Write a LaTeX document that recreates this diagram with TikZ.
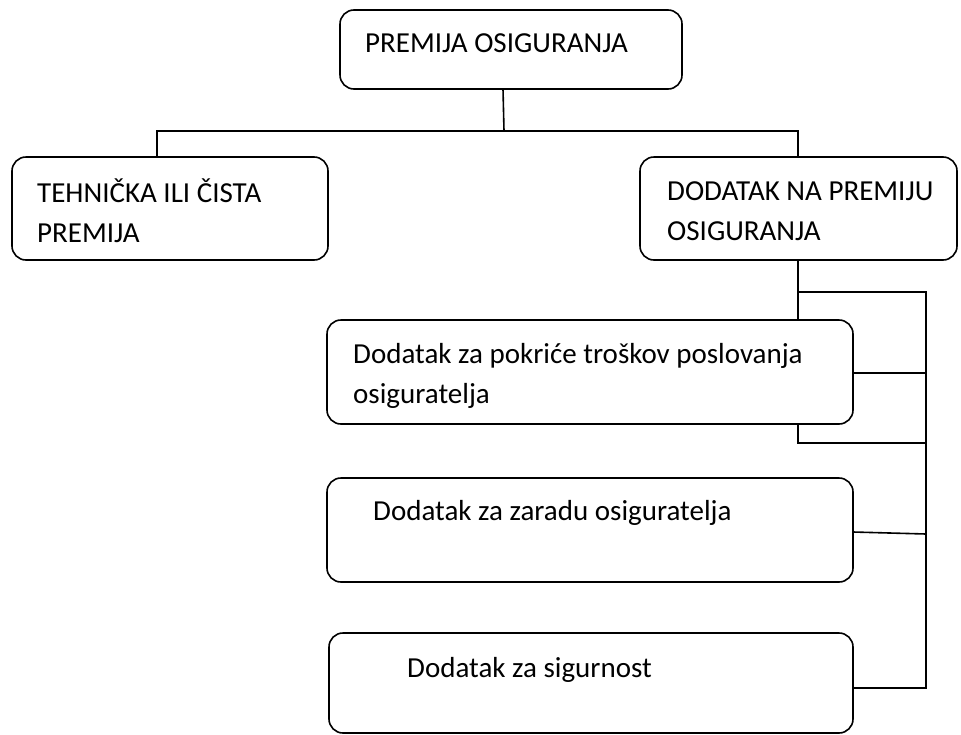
\documentclass[tikz,border=0pt]{standalone}
\usepackage{fontspec}
\setmainfont{Carlito}
\begin{document}
\begin{tikzpicture}[x=1pt,y=-1pt,
  box/.style={draw=black,line width=1.6pt,rounded corners=14pt,inner sep=0pt},
  txt/.style={anchor=base west,inner sep=0pt,align=left,font=\fontsize{29}{40}\selectfont},
  conn/.style={draw=black,line width=1.6pt}]
\useasboundingbox (0,0) rectangle (961,734);
% boxes
\draw[box] (340,10) rectangle (682,89);
\coordinate (topS) at (503,89);
\draw[box] (12,157) rectangle (328,260);
\draw[box] (640,157) rectangle (957,260);
\draw[box] (327,320) rectangle (853,424);
\draw[box] (327,478) rectangle (853,582);
\draw[box] (329,633) rectangle (853,733);
% texts (multi-line nodes are placed at the baseline of their last line)
\node[txt] (t0) at (365,52) {PREMIJA OSIGURANJA};
\node[txt] (t1) at (37,242) {TEHNIČKA ILI ČISTA\\PREMIJA};
\node[txt] (t2) at (667,240) {DODATAK NA PREMIJU\\OSIGURANJA};
\node[txt] (t3) at (353,403) {Dodatak za pokriće troškov poslovanja\\osiguratelja};
\node[txt] (t4) at (373,520) {Dodatak za zaradu osiguratelja};
\node[txt] (t5) at (407,677) {Dodatak za sigurnost};
% junction coordinates
\coordinate (j0) at (504,131);
\coordinate (jl) at (157,131);
\coordinate (jr) at (798,131);
\coordinate (lt) at (157,157);
\coordinate (rt) at (798,157);
\coordinate (rb) at (798,260);
\coordinate (b1t) at (798,320);
\coordinate (b1b) at (798,424);
\coordinate (h1) at (798,292);
\coordinate (h1r) at (926,292);
\coordinate (b1r) at (853,373);
\coordinate (h2r) at (926,373);
\coordinate (h3) at (798,443);
\coordinate (h3r) at (926,443);
\coordinate (b2r) at (853,532);
\coordinate (h4r) at (926,534);
\coordinate (b3r) at (853,688);
\coordinate (h5r) at (926,688);
% connectors
\draw[conn] (topS) -- (j0);
\draw[conn] (lt) -- (jl) -- (jr) -- (rt);
\draw[conn] (rb) -- (b1t);
\draw[conn] (h1) -- (h1r) -- (h5r) -- (b3r);
\draw[conn] (b1r) -- (h2r);
\draw[conn] (b1b) -- (h3) -- (h3r);
\draw[conn] (b2r) -- (h4r);
\end{tikzpicture}
\end{document}
